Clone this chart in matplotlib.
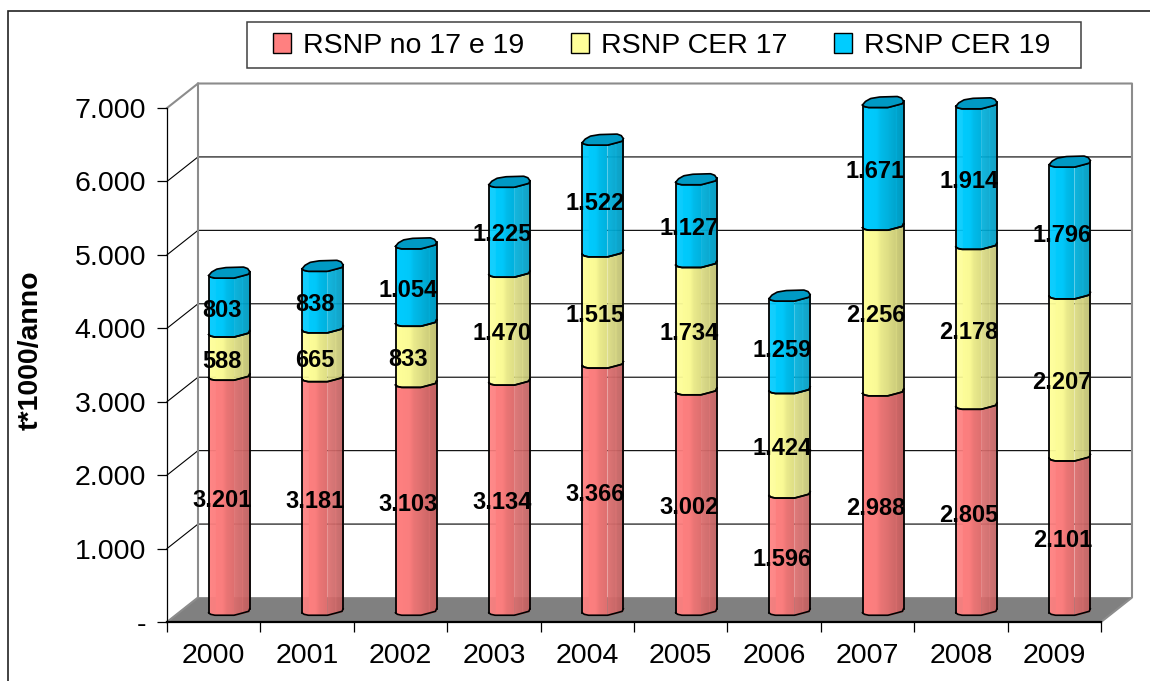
import numpy as np
import matplotlib
matplotlib.use('Agg')
import matplotlib.pyplot as plt
from matplotlib.patches import Patch, Polygon, Rectangle
from matplotlib.ticker import FuncFormatter

plt.rcParams['font.family'] = ['Liberation Sans', 'DejaVu Sans']

years = ['2000', '2001', '2002', '2003', '2004', '2005', '2006', '2007', '2008', '2009']
rsnp_no = [3201, 3181, 3103, 3134, 3366, 3002, 1596, 2988, 2805, 2101]
rsnp_17 = [588, 665, 833, 1470, 1515, 1734, 1424, 2256, 2178, 2207]
rsnp_19 = [803, 838, 1054, 1225, 1522, 1127, 1259, 1671, 1914, 1796]
series_names = ['RSNP no 17 e 19', 'RSNP CER 17', 'RSNP CER 19']
series_colors = ['#FF8080', '#FFFF99', '#00CCFF']
lid_color = '#0099C4'
y_ticks = [0, 1000, 2000, 3000, 4000, 5000, 6000, 7000]

W, H = 1150, 681
fig = plt.figure(figsize=(W / 100, H / 100), dpi=100)
ax = fig.add_axes([167 / W, 1 - 622 / H, 934 / W, 514 / H])
ax.set_xlim(-0.5, 9.5)
ax.set_ylim(0, 7000)
ax.patch.set_visible(False)

# pixel sizes converted to data units
px_x = 10 / 934
px_y = 7000 / 514
dx = 31 * px_x
dy = 24.5 * px_y


def fmt_thousands(v, _=None):
    if v == 0:
        return '-'
    return f'{v:,.0f}'.replace(',', '.')


# walls, floor and gridlines of the fake 3d box
ax.add_patch(Polygon([(-0.5, 0), (-0.5 + dx, dy), (9.5 + dx, dy), (9.5, 0)], closed=True,
                     facecolor='#808080', edgecolor='#808080', lw=0.5, clip_on=False, zorder=1))
for v in y_ticks[1:-1]:
    ax.plot([-0.5, -0.5 + dx, 9.5 + dx], [v, v + dy, v + dy], color='black', lw=0.8,
            clip_on=False, zorder=1.2)
ax.plot([-0.5, -0.5 + dx, 9.5 + dx, 9.5 + dx, 9.5], [7000, 7000 + dy, 7000 + dy, dy, 0],
        color='#8c8c8c', lw=1.5, clip_on=False, zorder=1.3)
ax.plot([-0.5 + dx, -0.5 + dx, -0.5], [7000 + dy, dy, 0], color='#8c8c8c', lw=1.5,
        clip_on=False, zorder=1.3)

# irregular low-res outline of the cylinders, offsets in pixels
s_front = [0, 0.04, 0.15, 0.62, 0.85, 0.98, 1]
p_front = [3, 4.5, 5.5, 5.5, 3, 1.5, -1]
s_back = [0, 0.07, 0.2, 0.42, 0.85, 0.95, 1]
p_back = [3, -0.5, -3.5, -5, -5.5, -4, -1]
shade_s = [0, 0.33, 0.42, 0.61, 0.62, 0.63, 0.79, 0.80, 0.81, 1]
shade_v = [1.0, 0.98, 0.92, 0.87, 0.95, 0.86, 0.81, 0.90, 0.80, 0.75]
bar_w = 41 * px_x
s = np.linspace(0, 1, 42)
front = np.interp(s, s_front, p_front) * -px_y


def shaded(color, v):
    return tuple(c * v for c in matplotlib.colors.to_rgb(color))


bottoms = np.zeros(len(years))
for vals, color in zip([rsnp_no, rsnp_17, rsnp_19], series_colors):
    for i, v in enumerate(vals):
        left = i + dx / 2 - bar_w / 2
        base = bottoms[i] + dy / 2
        xs = left + s * bar_w
        for k in range(len(s) - 1):
            c = shaded(color, np.interp(s[k], shade_s, shade_v))
            ax.fill_between(xs[k:k + 2], base + front[k:k + 2], base + v + front[k:k + 2],
                            color=c, lw=0.3, clip_on=False, zorder=2)
        ax.plot(xs, base + front, color='black', lw=1.2, clip_on=False, zorder=2.2)
        ax.plot(xs, base + v + front, color='black', lw=1.2, clip_on=False, zorder=2.2)
        ax.plot([xs[0], xs[0]], [base + front[0], base + v + front[0]], color='black', lw=1.3,
                clip_on=False, zorder=2.2)
        ax.plot([xs[-1], xs[-1]], [base + front[-1], base + v + front[-1]], color='black', lw=1.3,
                clip_on=False, zorder=2.2)
    bottoms = bottoms + np.array(vals)

# lids on top of the stacks
for i, total in enumerate(bottoms):
    left = i + dx / 2 - bar_w / 2
    top = total + dy / 2
    back = np.interp(s, s_back, p_back) * -px_y
    xs = left + s * bar_w
    pts = list(zip(xs, top + front)) + list(zip(xs[::-1], top + back[::-1]))
    ax.add_patch(Polygon(pts, closed=True, facecolor=lid_color, edgecolor='black', lw=1.2,
                         clip_on=False, zorder=2.3))

# value labels
bottoms = np.zeros(len(years))
for vals in [rsnp_no, rsnp_17, rsnp_19]:
    for i, v in enumerate(vals):
        ax.text(i + 8 * px_x, bottoms[i] + v / 2 + 4 * px_y, fmt_thousands(v), ha='center', va='center',
                fontsize=17, fontweight='bold', color='black', clip_on=False, zorder=5)
    bottoms = bottoms + np.array(vals)

# axes
for side in ['top', 'right']:
    ax.spines[side].set_visible(False)
ax.spines['left'].set_linewidth(0.9)
ax.spines['bottom'].set_linewidth(1.6)
ax.set_yticks(y_ticks)
ax.yaxis.set_major_formatter(FuncFormatter(fmt_thousands))
ax.tick_params(axis='y', labelsize=20.5, length=7, width=0.9, pad=8, colors='black')
ax.set_xticks(np.arange(-0.5, 10, 1))
ax.set_xticklabels([])
ax.set_xticks(np.arange(10), labels=years, minor=True)
ax.tick_params(axis='x', which='major', length=7, width=0.9)
ax.tick_params(axis='x', which='minor', length=0, labelsize=20.5, pad=15)
ax.set_ylabel('t*1000/anno', fontsize=20.5, fontweight='bold')
ax.yaxis.set_label_coords((44 - 167) / 934, (622 - 350) / 514)

# legend and chart frame
handles = [Patch(facecolor=c, edgecolor='black', lw=1) for c in series_colors]
leg = ax.legend(handles, series_names, ncol=3, loc='center',
                bbox_to_anchor=(661.5 / W, 1 - 46 / H), bbox_transform=fig.transFigure,
                fontsize=20.5, frameon=False,
                handlelength=0.65, handleheight=0.65, handletextpad=0.4, columnspacing=1.64,
                borderpad=0, borderaxespad=0)
leg.set_zorder(6)
fig.add_artist(Rectangle((246.5 / W, 1 - 67.5 / H), 834 / W, 46 / H, transform=fig.transFigure,
                         facecolor='none', edgecolor='#404040', lw=1.1))

fig.add_artist(Rectangle((7.5 / W, -0.1), 1.2, 1.1 - 11 / H, transform=fig.transFigure,
                         facecolor='none', edgecolor='#222222', lw=1.2))

fig.savefig('out.png', dpi=100)
